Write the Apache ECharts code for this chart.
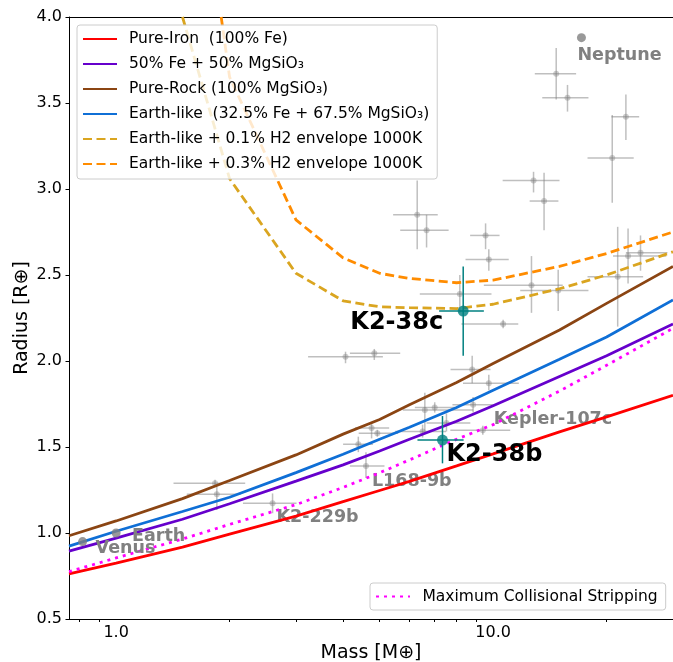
<!DOCTYPE html>
<html>
<head>
<meta charset="utf-8">
<script src="https://cdn.jsdelivr.net/npm/echarts@6/dist/echarts.min.js"></script>
<style>
  html, body { margin: 0; padding: 0; background: #fff; }
  #chart { width: 673px; height: 662px; }
</style>
</head>
<body>
<div id="chart"></div>
<script>
// model curves, sampled at these masses [M_earth]
const massGrid = [0.75, 1, 1.5, 2, 3, 4, 5, 6, 8, 10, 15, 20, 30];
const ironRadius = [0.762, 0.825, 0.918, 0.993, 1.098, 1.182, 1.247, 1.30, 1.39, 1.46, 1.588, 1.675, 1.80];
const fe50Radius = [0.895, 0.97, 1.08, 1.17, 1.302, 1.396, 1.477, 1.545, 1.65, 1.74, 1.91, 2.03, 2.215];
const rockRadius = [0.984, 1.07, 1.20, 1.305, 1.454, 1.575, 1.66, 1.745, 1.875, 1.985, 2.18, 2.335, 2.55];
const earthRadius = [0.924, 1.01, 1.125, 1.208, 1.351, 1.458, 1.545, 1.615, 1.73, 1.83, 2.01, 2.14, 2.355];
const stripRadius = [0.775, 0.855, 0.965, 1.05, 1.165, 1.265, 1.35, 1.425, 1.545, 1.63, 1.825, 1.975, 2.19];

// H2 envelope curves
const h01Mass = [1.5, 2, 3, 4, 5, 6, 8, 10, 15, 20, 30];
const h01Radius = [4.0, 3.06, 2.51, 2.35, 2.315, 2.31, 2.305, 2.33, 2.42, 2.50, 2.635];
const h03Mass = [1.9, 2, 3, 4, 5, 6, 8, 10, 15, 20, 30];
const h03Radius = [4.0, 3.65, 2.82, 2.60, 2.51, 2.48, 2.455, 2.47, 2.55, 2.625, 2.75];

// known planets with error bars
const obsName = ['', '', '', '', '', '', '', '', '', '', '', '', '', '', '', '', '', '', '', '', '', '', '', '', '', '', 'Kepler-107c', '', '', '', 'L168-9b', '', '', 'K2-229b'];
const obsMass = [14.7, 15.75, 22.5, 20.7, 12.8, 13.65, 6.29, 6.66, 9.55, 9.74, 8.16, 12.64, 14.88, 21.4, 22.8, 24.6, 10.63, 4.06, 4.84, 8.8, 9.74, 6.59, 7.0, 8.85, 7.52, 6.5, 9.39, 4.76, 4.93, 4.39, 4.6, 1.83, 1.85, 2.6];
const obsMassLo = [12.9, 13.5, 20.6, 17.8, 10.6, 12.5, 5.43, 5.67, 8.69, 8.45, 6.39, 9.45, 11.8, 17.8, 20.8, 22.5, 8.24, 3.23, 4.17, 7.71, 8.32, 5.76, 6.2, 7.8, 6.66, 5.5, 7.7, 4.3, 4.4, 4.0, 4.17, 1.42, 1.54, 2.17];
const obsMassHi = [16.6, 17.9, 24.4, 23.6, 15.0, 14.9, 7.13, 7.62, 10.4, 11.0, 9.9, 15.3, 17.9, 25.0, 28.8, 29.0, 11.66, 5.1, 5.67, 9.84, 11.7, 8.85, 7.9, 10.0, 8.7, 7.5, 11.1, 5.3, 5.6, 4.8, 5.15, 2.2, 2.14, 3.01];
const obsRadius = [3.67, 3.53, 3.42, 3.18, 3.05, 2.93, 2.85, 2.76, 2.73, 2.59, 2.39, 2.44, 2.41, 2.49, 2.61, 2.63, 2.215, 2.025, 2.045, 1.95, 1.87, 1.715, 1.73, 1.746, 1.64, 1.59, 1.597, 1.61, 1.58, 1.516, 1.39, 1.289, 1.225, 1.173];
const obsRadiusLo = [3.52, 3.45, 3.285, 2.92, 2.98, 2.76, 2.65, 2.66, 2.65, 2.525, 2.28, 2.28, 2.29, 2.20, 2.45, 2.525, 2.19, 1.987, 2.006, 1.87, 1.83, 1.59, 1.70, 1.70, 1.59, 1.555, 1.571, 1.55, 1.56, 1.47, 1.32, 1.27, 1.134, 1.115];
const obsRadiusHi = [3.82, 3.605, 3.55, 3.43, 3.10, 3.095, 3.05, 2.85, 2.80, 2.65, 2.50, 2.61, 2.53, 2.78, 2.77, 2.73, 2.24, 2.054, 2.07, 2.03, 1.92, 1.815, 1.76, 1.79, 1.695, 1.63, 1.623, 1.64, 1.60, 1.56, 1.47, 1.31, 1.27, 1.23];

// K2-38 planets
const targetName = ['K2-38b', 'K2-38c'];
const targetMass = [7.34, 8.33];
const targetMassLo = [6.3, 7.19];
const targetMassHi = [8.35, 9.45];
const targetRadius = [1.54, 2.29];
const targetRadiusLo = [1.405, 2.03];
const targetRadiusHi = [1.68, 2.55];

// solar system
const solarName = ['Venus', 'Earth', 'Neptune'];
const solarMass = [0.815, 1.0, 17.15];
const solarRadius = [0.95, 1.0, 3.88];

// axis ticks
const massLabelTicks = [1, 10];
const massMinorTicks = [0.8, 0.9, 2, 3, 4, 5, 6, 7, 8, 9, 20];

// label placement (px from marker centre)
const labelOffset = {
  'Neptune': [-4, 18], 'Earth': [16, 3], 'Venus': [13, 6.5],
  'Kepler-107c': [11, -11], 'L168-9b': [6, 16], 'K2-229b': [4, 14.5],
  'K2-38b': [4, 15], 'K2-38c': [-20, 12]
};

const FONT = 'DejaVu Sans';
const chart = echarts.init(document.getElementById('chart'), null, { renderer: 'canvas' });

const curve = (name, xs, ys, color, type) => ({
  name,
  type: 'line',
  data: xs.map((m, i) => [m, ys[i]]),
  symbol: 'none',
  showSymbol: false,
  clip: true,
  z: 3,
  lineStyle: { color, width: 2.8, type: type || 'solid', cap: 'butt' },
  itemStyle: { color },
  emphasis: { disabled: true }
})

const errorBars = (rows, color, width, z) => ({
  type: 'custom',
  silent: true,
  z,
  encode: { x: 0, y: 1 },
  data: rows,
  renderItem: (params, api) => {
    const m = api.value(0), r = api.value(1)
    const a = api.coord([api.value(2), r]), b = api.coord([api.value(3), r])
    const c = api.coord([m, api.value(4)]), d = api.coord([m, api.value(5)])
    const style = { stroke: color, lineWidth: width }
    return {
      type: 'group',
      children: [
        { type: 'line', shape: { x1: a[0], y1: a[1], x2: b[0], y2: b[1] }, style },
        { type: 'line', shape: { x1: c[0], y1: c[1], x2: d[0], y2: d[1] }, style }
      ]
    }
  }
})

const pointLabel = (name, size, color) => ({
  show: !!name,
  position: 'inside',
  align: name === 'K2-38c' ? 'right' : 'left',
  verticalAlign: 'middle',
  offset: labelOffset[name] || [0, 0],
  formatter: '{b}',
  fontFamily: FONT,
  fontSize: size,
  fontWeight: 'bold',
  color,
  opacity: 1,
  textBorderWidth: 0
})

const obsRows = obsMass.map((m, i) => [m, obsRadius[i], obsMassLo[i], obsMassHi[i], obsRadiusLo[i], obsRadiusHi[i]])
const targetRows = targetMass.map((m, i) => [m, targetRadius[i], targetMassLo[i], targetMassHi[i], targetRadiusLo[i], targetRadiusHi[i]])

const option = {
  animation: false,
  backgroundColor: '#fff',
  textStyle: { fontFamily: FONT },
  grid: { left: 69, right: 0, top: 17, bottom: 43, containLabel: false, outerBoundsMode: 'none' },
  legend: [{
    orient: 'vertical',
    left: 77,
    top: 25,
    data: ['Pure-Iron  (100% Fe)', '50% Fe + 50% MgSiO₃', 'Pure-Rock (100% MgSiO₃)',
      'Earth-like  (32.5% Fe + 67.5% MgSiO₃)', 'Earth-like + 0.1% H2 envelope 1000K', 'Earth-like + 0.3% H2 envelope 1000K'],
    itemWidth: 34,
    itemHeight: 14,
    itemGap: 9,
    padding: [6, 8, 7, 5],
    backgroundColor: 'rgba(255,255,255,0.8)',
    borderColor: '#cccccc',
    borderWidth: 1,
    borderRadius: 3,
    itemStyle: { opacity: 0 },
    textStyle: { fontFamily: FONT, fontSize: 15.5, color: '#000', padding: [0, 0, 0, 7] },
    selectedMode: false,
    z: 10
  }, {
    orient: 'vertical',
    left: 370,
    top: 583,
    data: ['Maximum Collisional Stripping'],
    itemWidth: 34,
    itemHeight: 14,
    padding: [5.5, 8, 5.5, 5],
    backgroundColor: 'rgba(255,255,255,0.8)',
    borderColor: '#cccccc',
    borderWidth: 1,
    borderRadius: 3,
    itemStyle: { opacity: 0 },
    textStyle: { fontFamily: FONT, fontSize: 15.5, color: '#000', padding: [0, 0, 0, 7.5] },
    selectedMode: false,
    z: 10
  }],
  xAxis: [{
    type: 'log',
    logBase: 10,
    min: 0.75,
    max: 30,
    name: 'Mass [M⊕]',
    nameLocation: 'middle',
    nameGap: 25,
    nameMoveOverlap: false,
    nameTextStyle: { fontFamily: FONT, fontSize: 19, color: '#000' },
    axisLine: { show: true, lineStyle: { color: '#000', width: 1 } },
    axisTick: { show: true, customValues: massMinorTicks, length: 3, lineStyle: { color: '#000', width: 1 } },
    axisLabel: { customValues: massLabelTicks, formatter: (v) => Number(v).toFixed(1), fontFamily: FONT, fontSize: 16, color: '#000', margin: 6 },
    splitLine: { show: false },
    minorTick: { show: false }
  }, {
    type: 'log',
    logBase: 10,
    min: 0.75,
    max: 30,
    position: 'top',
    axisLine: { show: true, lineStyle: { color: '#000', width: 1 } },
    axisTick: { show: false },
    axisLabel: { show: false },
    splitLine: { show: false }
  }],
  yAxis: {
    type: 'value',
    min: 0.5,
    max: 4.0,
    interval: 0.5,
    name: 'Radius [R⊕]',
    nameLocation: 'middle',
    nameGap: 37.5,
    nameMoveOverlap: false,
    nameTextStyle: { fontFamily: FONT, fontSize: 19, color: '#000' },
    axisLine: { show: true, lineStyle: { color: '#000', width: 1 } },
    axisTick: { show: true, length: 3.5, lineStyle: { color: '#000', width: 1 } },
    axisLabel: { formatter: (v) => v.toFixed(1), fontFamily: FONT, fontSize: 16, color: '#000', margin: 7 },
    splitLine: { show: false }
  },
  series: [
    errorBars(obsRows, 'rgba(128,128,128,0.5)', 1.5, 1),
    {
      type: 'scatter',
      symbolSize: 6,
      z: 2,
      itemStyle: { color: 'rgba(128,128,128,0.5)' },
      data: obsRows.map((row, i) => ({ name: obsName[i], value: [row[0], row[1]], label: pointLabel(obsName[i], 17.5, '#808080') })),
      emphasis: { disabled: true }
    },
    curve('Pure-Iron  (100% Fe)', massGrid, ironRadius, '#ff0000'),
    curve('50% Fe + 50% MgSiO₃', massGrid, fe50Radius, '#6600cc'),
    curve('Pure-Rock (100% MgSiO₃)', massGrid, rockRadius, '#8b4513'),
    curve('Earth-like  (32.5% Fe + 67.5% MgSiO₃)', massGrid, earthRadius, '#0f6fd6'),
    curve('Earth-like + 0.1% H2 envelope 1000K', h01Mass, h01Radius, '#daa520', [9, 4.5]),
    curve('Earth-like + 0.3% H2 envelope 1000K', h03Mass, h03Radius, '#ff8c00', [9, 4.5]),
    curve('Maximum Collisional Stripping', massGrid, stripRadius, '#ff00ff', [3, 5]),
    {
      type: 'scatter',
      symbolSize: 9,
      z: 4,
      itemStyle: { color: '#808080' },
      data: solarName.map((n, i) => ({ name: n, value: [solarMass[i], solarRadius[i]], label: pointLabel(n, 17.5, '#808080') })),
      emphasis: { disabled: true }
    },
    errorBars(targetRows, '#008080', 1.5, 5),
    {
      type: 'scatter',
      symbolSize: 11,
      z: 6,
      itemStyle: { color: '#008080' },
      data: targetRows.map((row, i) => ({ name: targetName[i], value: [row[0], row[1]], label: pointLabel(targetName[i], 24, '#000') })),
      emphasis: { disabled: true }
    }
  ]
}

chart.setOption(option)
</script>
</body>
</html>
